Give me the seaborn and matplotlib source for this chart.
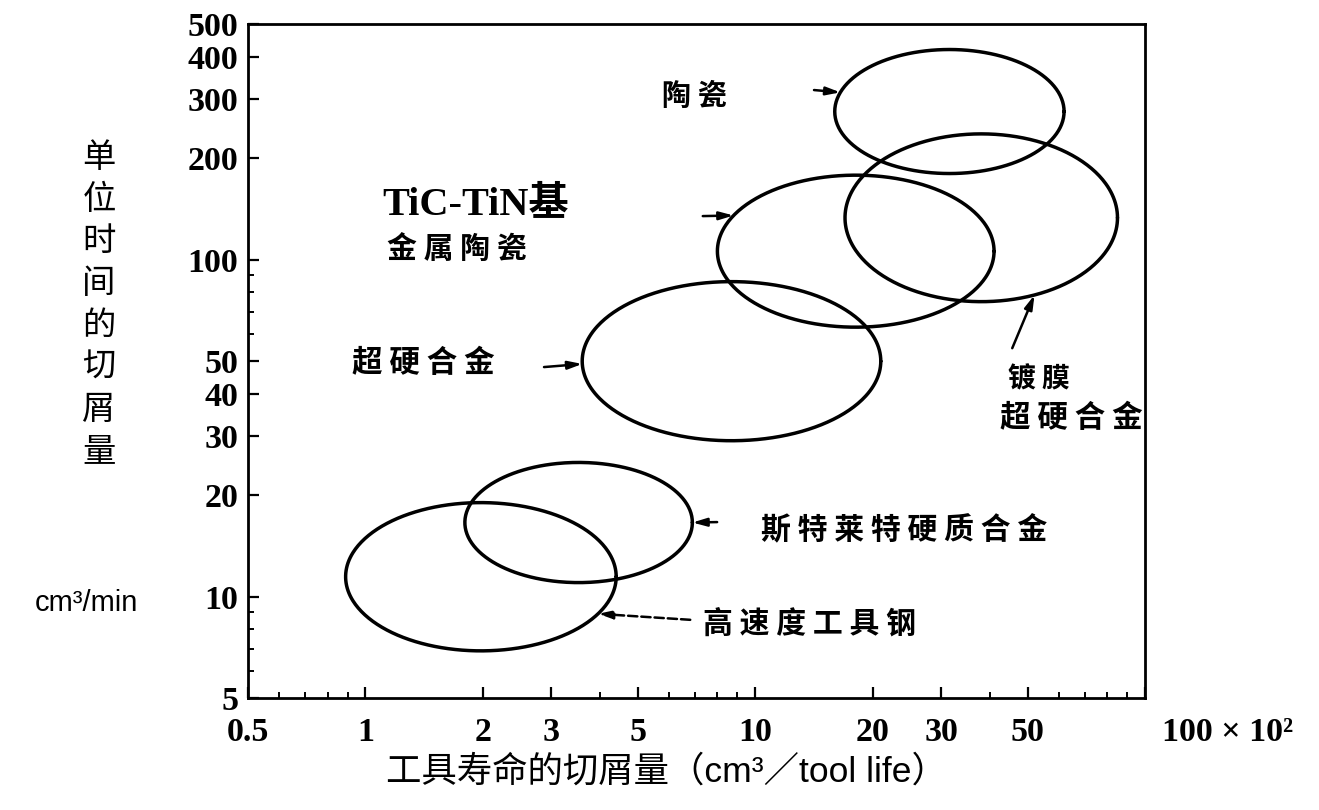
import numpy as np
import pandas as pd
import matplotlib
matplotlib.use("Agg")
import matplotlib.pyplot as plt
import seaborn as sns
from matplotlib.ticker import FixedLocator, FixedFormatter, LogLocator, NullFormatter

# Application regions of cutting-tool materials:
# x = chip volume removed per tool life (×10² cm³), y = removal rate (cm³/min)
materials = ["高速度工具钢", "斯特莱特硬质合金", "超硬合金",
             "TiC-TiN基金属陶瓷", "镀膜超硬合金", "陶瓷"]
life_low = [0.89, 1.8, 3.6, 8.0, 17.0, 16.0]
life_high = [4.4, 6.9, 21.0, 41.0, 85.0, 62.0]
rate_low = [6.9, 11.0, 29.0, 63.0, 75.0, 180.0]
rate_high = [19.0, 25.0, 86.0, 178.0, 236.0, 420.0]

x_ticks = [0.5, 1, 2, 3, 5, 10, 20, 30, 50, 100]
x_tick_labels = ["0.5", "1", "2", "3", "5", "10", "20", "30", "50", "  100 × 10²"]
y_ticks = [5, 10, 20, 30, 40, 50, 100, 200, 300, 400, 500]
y_tick_labels = ["5", "10", "20", "30", "40", "50", "100", "200", "300", "400", "500"]

y_title = "单位时间的切屑量"
y_unit = "cm³/min"
x_title = "工具寿命的切屑量（cm³／tool life）"

sns.set_theme(style="white")
plt.rcParams["font.family"] = ["Noto Sans CJK SC", "DejaVu Sans"]
plt.rcParams["axes.unicode_minus"] = False
plt.rcParams["text.color"] = "black"
plt.rcParams["axes.labelcolor"] = "black"
plt.rcParams["xtick.color"] = "black"
plt.rcParams["ytick.color"] = "black"

fig = plt.figure(figsize=(13.19, 8.10), dpi=100)
fig.patch.set_facecolor("white")
ax = fig.add_axes([248 / 1319, 1 - 698 / 810, 897 / 1319, 674 / 810])
ax.set_facecolor("white")
ax.set_xscale("log")
ax.set_yscale("log")

# one ellipse per material, spanning its ranges in log-log space
t = np.linspace(0, 2 * np.pi, 361)
geom = []
for i in range(len(materials)):
    lx0, lx1 = np.log10(life_low[i]), np.log10(life_high[i])
    ly0, ly1 = np.log10(rate_low[i]), np.log10(rate_high[i])
    cx, cy, rx, ry = (lx0 + lx1) / 2, (ly0 + ly1) / 2, (lx1 - lx0) / 2, (ly1 - ly0) / 2
    geom.append((cx, cy, rx, ry))
    df = pd.DataFrame({"x": 10 ** (cx + rx * np.cos(t)), "y": 10 ** (cy + ry * np.sin(t))})
    sns.lineplot(data=df, x="x", y="y", sort=False, estimator=None,
                 color="black", lw=2.5, ax=ax)


def on_ellipse(i, deg):
    cx, cy, rx, ry = geom[i]
    a = np.deg2rad(deg)
    return 10 ** (cx + rx * np.cos(a)), 10 ** (cy + ry * np.sin(a))


ax.set_xlim(0.5, 100)
ax.set_ylim(5, 500)
ax.set_xlabel("")
ax.set_ylabel("")

# ticks
ax.xaxis.set_major_locator(FixedLocator(x_ticks))
ax.xaxis.set_major_formatter(FixedFormatter(x_tick_labels))
ax.xaxis.set_minor_locator(LogLocator(base=10, subs=np.arange(2, 10)))
ax.xaxis.set_minor_formatter(NullFormatter())
ax.yaxis.set_major_locator(FixedLocator(y_ticks))
ax.yaxis.set_major_formatter(FixedFormatter(y_tick_labels))
ax.yaxis.set_minor_locator(LogLocator(base=10, subs=np.arange(2, 10)))
ax.yaxis.set_minor_formatter(NullFormatter())
ax.tick_params(which="major", direction="in", length=8, width=1.6, color="black",
               bottom=True, left=True, top=False, right=False)
ax.tick_params(which="minor", direction="in", length=4.5, width=1.4, color="black",
               bottom=True, left=True, top=False, right=False)
ax.tick_params(axis="x", which="major", pad=14)
ax.tick_params(axis="y", which="major", pad=7)
for lab in ax.get_xticklabels() + ax.get_yticklabels():
    lab.set_fontfamily(["Liberation Serif", "DejaVu Serif"])
    lab.set_fontweight("bold")
    lab.set_fontsize(24.5)
    lab.set_color("black")
ax.get_xticklabels()[-1].set_horizontalalignment("left")

for sp in ax.spines.values():
    sp.set_visible(True)
    sp.set_color("black")
    sp.set_linewidth(2.0)


def spaced(s):
    return " ".join(s)


# region labels
ax.text(0.498, 0.893, spaced("陶瓷"), transform=ax.transAxes, ha="center", va="center",
        fontsize=21, fontweight="bold")
ax.text(0.2535, 0.731, "TiC-TiN基", transform=ax.transAxes, ha="center", va="center",
        fontsize=29, fontweight="bold", family=["Liberation Serif", "Noto Sans CJK SC"])
ax.text(0.233, 0.665, spaced("金属陶瓷"), transform=ax.transAxes, ha="center", va="center",
        fontsize=21.5, fontweight="bold")
ax.text(0.1955, 0.497, spaced("超硬合金"), transform=ax.transAxes, ha="center", va="center",
        fontsize=22, fontweight="bold")
ax.text(0.882, 0.472, spaced("镀膜"), transform=ax.transAxes, ha="center", va="center",
        fontsize=20, fontweight="bold")
ax.text(0.918, 0.415, spaced("超硬合金"), transform=ax.transAxes, ha="center", va="center",
        fontsize=22, fontweight="bold")
ax.text(0.731, 0.249, spaced("斯特莱特硬质合金"), transform=ax.transAxes, ha="center",
        va="center", fontsize=21.5, fontweight="bold")
ax.text(0.6265, 0.111, spaced("高速度工具钢"), transform=ax.transAxes, ha="center",
        va="center", fontsize=21.5, fontweight="bold")

# leader arrows: (material index, angle on ellipse, tail in axes fraction, linestyle)
leaders = [(5, 162, (0.631, 0.902), "-"),
           (3, 152, (0.507, 0.715), "-"),
           (2, 182, (0.330, 0.491), "-"),
           (4, 293, (0.852, 0.519), "-"),
           (1, 0, (0.523, 0.261), "-"),
           (0, 330, (0.493, 0.116), "--")]
for idx, deg, tail, ls in leaders:
    ax.annotate("", xy=on_ellipse(idx, deg), xycoords="data",
                xytext=tail, textcoords="axes fraction",
                arrowprops=dict(arrowstyle="-|>,head_length=0.7,head_width=0.2",
                                color="black", lw=1.8, linestyle=ls,
                                shrinkA=0, shrinkB=0))

# axis titles
for k, ch in enumerate(y_title):
    fig.text(99 / 1319, 1 - (158 + 41.9 * k) / 810, ch, ha="center", va="center",
             fontsize=24)
fig.text(86 / 1319, 1 - 603 / 810, y_unit, ha="center", va="center", fontsize=21,
         family=["Liberation Sans", "DejaVu Sans"])
fig.text(666 / 1319, 1 - 772 / 810, x_title, ha="center", va="center", fontsize=25.5,
         family=["Liberation Sans", "Noto Sans CJK SC"])

fig.savefig("out.png", dpi=100, facecolor="white")
